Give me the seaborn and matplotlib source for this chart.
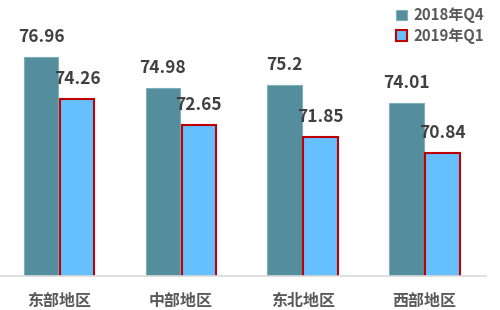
import matplotlib
matplotlib.use("Agg")
import matplotlib.pyplot as plt
import seaborn as sns
import pandas as pd
from matplotlib.patches import Patch

regions = ["东部地区", "中部地区", "东北地区", "西部地区"]
series = ["2018年Q4", "2019年Q1"]
q4_values = [76.96, 74.98, 75.2, 74.01]
q1_values = [74.26, 72.65, 71.85, 70.84]
q4_labels = ["76.96", "74.98", "75.2", "74.01"]
q1_labels = ["74.26", "72.65", "71.85", "70.84"]

sns.set_theme(style="white")
plt.rcParams['font.family'] = ['Noto Sans CJK SC', 'DejaVu Sans']

df = pd.DataFrame({
    "region": regions * 2,
    "series": [series[0]] * 4 + [series[1]] * 4,
    "value": q4_values + q1_values,
})

fill_colors = ["#548D9C", "#66BFFF"]
edge_colors = ["#7DAFBC", "#C00000"]
edge_widths = [0.8, 1.5]

fig = plt.figure(figsize=(5, 3.1), dpi=100)
ax = fig.add_axes([0.0, 1 - 276 / 310, 0.972, 276 / 310])

sns.barplot(data=df, x="region", y="value", hue="series", palette=fill_colors,
            width=0.59, gap=0.04, ax=ax, legend=False, saturation=1)

for cont, ec, lw, labs in zip(ax.containers, edge_colors, edge_widths, [q4_labels, q1_labels]):
    for p in cont:
        p.set_edgecolor(ec)
        p.set_linewidth(lw)
    ax.bar_label(cont, labels=labs, padding=8, fontsize=12.5, fontweight="bold",
                 color="#404040")

ax.set_ylim(63, 80.6)
ax.set_xlim(-0.484, 3.505)
ax.set_xlabel("")
ax.set_ylabel("")
ax.set_yticks([])
for s in ["top", "right", "left"]:
    ax.spines[s].set_visible(False)
ax.spines["bottom"].set_color("#D9D9D9")
ax.spines["bottom"].set_linewidth(1.2)
ax.tick_params(axis="x", length=0, pad=12, labelsize=11.5, labelcolor="#595959")
for t in ax.get_xticklabels():
    t.set_fontweight("bold")

handles = [Patch(facecolor=fill_colors[i], edgecolor=edge_colors[i], linewidth=edge_widths[i])
           for i in range(2)]
fig.legend(handles, series, loc="upper right", bbox_to_anchor=(0.995, 1.02),
           frameon=False, handlelength=0.7, handleheight=0.7,
           handletextpad=0.45, labelspacing=0.3, labelcolor="#595959",
           prop={"weight": "bold", "size": 10.8})

fig.savefig("out.png", dpi=100)
